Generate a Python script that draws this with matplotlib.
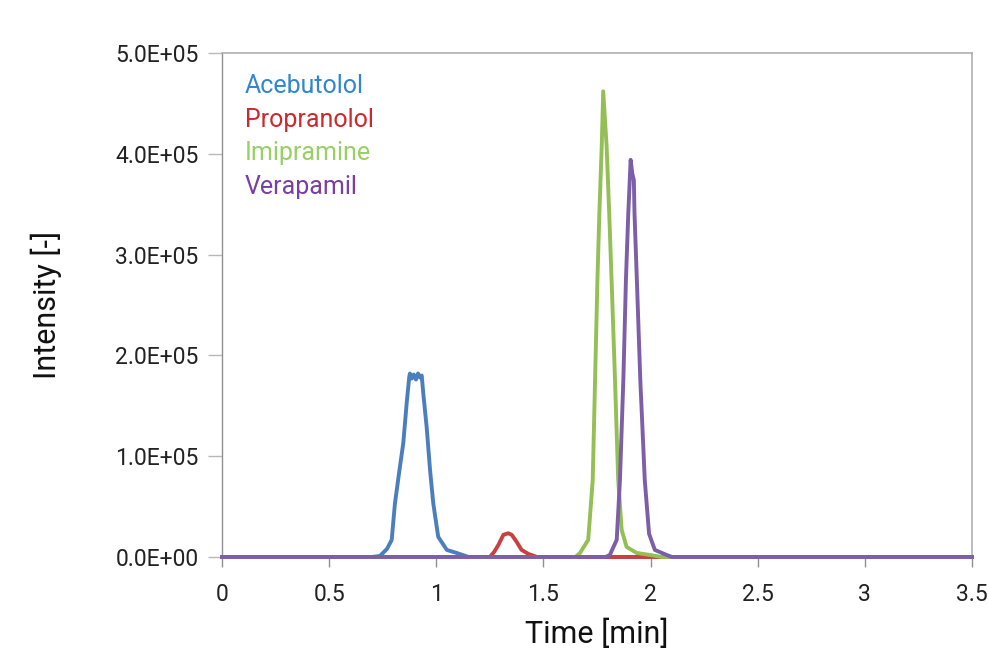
import matplotlib.pyplot as plt
from matplotlib.ticker import FuncFormatter

plt.rcParams["font.family"] = ["Roboto", "DejaVu Sans"]

# time [min] and intensity [counts]
acebutolol_t = [0.0, 0.70, 0.737, 0.77, 0.792, 0.807, 0.828, 0.846, 0.862, 0.874, 0.877,
                0.885, 0.895, 0.905, 0.915, 0.925, 0.932, 0.939, 0.955, 0.971, 0.986,
                1.009, 1.049, 1.095, 1.15, 3.5]
acebutolol_i = [0, 0, 1000, 8000, 17000, 53000, 86000, 113000, 153000, 179000, 182000,
                177000, 181000, 176000, 182000, 178000, 180000, 163000, 129000, 86000, 53000,
                20000, 7000, 4000, 0, 0]

propranolol_t = [0.0, 1.25, 1.27, 1.29, 1.313, 1.336, 1.352, 1.375, 1.398, 1.43, 1.47, 3.5]
propranolol_i = [0, 0, 5000, 12000, 22000, 23500, 22000, 15000, 7000, 3000, 0, 0]

imipramine_t = [0.0, 1.65, 1.671, 1.709, 1.730, 1.741, 1.752, 1.761, 1.772, 1.779, 1.795,
                1.807, 1.818, 1.834, 1.849, 1.865, 1.888, 1.935, 1.997, 2.05, 3.5]
imipramine_i = [0, 0, 4000, 17000, 76000, 176000, 275000, 341000, 407000, 462000, 407000,
                341000, 275000, 176000, 76000, 27000, 10000, 4000, 2000, 0, 0]

verapamil_t = [0.0, 1.79, 1.81, 1.842, 1.857, 1.873, 1.885, 1.896, 1.907, 1.915, 1.922,
               1.925, 1.936, 1.952, 1.973, 1.993, 2.02, 2.075, 2.1, 3.5]
verapamil_i = [0, 0, 2000, 17000, 76000, 176000, 275000, 341000, 394000, 380000, 374000,
               341000, 275000, 176000, 76000, 23000, 7000, 2000, 0, 0]

names = ["Acebutolol", "Propranolol", "Imipramine", "Verapamil"]
line_colors = ["#4a7ebf", "#c8403f", "#94bf55", "#7d5ea8"]
text_colors = ["#2f87d2", "#cc2a2e", "#98d066", "#7a3fa3"]

fig = plt.figure(figsize=(9.88, 6.49), dpi=100)
ax = fig.add_axes([0.2247, 0.1418, 0.7591, 0.7765])

series = [(acebutolol_t, acebutolol_i), (propranolol_t, propranolol_i),
          (imipramine_t, imipramine_i), (verapamil_t, verapamil_i)]
for (t, i), c in zip(series, line_colors):
    ax.plot(t, i, color=c, lw=2.8, solid_joinstyle="round", zorder=3, clip_on=False)

ax.set_xlim(0, 3.5)
ax.set_ylim(0, 5e5)
ax.set_xticks([0, 0.5, 1, 1.5, 2, 2.5, 3, 3.5])
ax.set_xticklabels(["0", "0.5", "1", "1.5", "2", "2.5", "3", "3.5"])
ax.set_yticks([0, 1e5, 2e5, 3e5, 4e5, 5e5])
ax.yaxis.set_major_formatter(FuncFormatter(lambda v, p: f"{v:.1E}"))

for s in ["top", "right", "bottom"]:
    ax.spines[s].set_color("#b0b0b0")
    ax.spines[s].set_linewidth(1.2)
ax.spines["left"].set_color("#909090")
ax.spines["left"].set_linewidth(1.0)
ax.tick_params(axis="y", direction="out", length=10, width=1, color="#b8b8b8",
               labelsize=16.5, pad=7, labelcolor="#222222")
ax.tick_params(axis="x", direction="out", length=7, width=1, color="#909090",
               labelsize=16.5, pad=12, labelcolor="#222222")

ax.set_xlabel("Time [min]", fontsize=22, labelpad=9, color="#111111")
ax.set_ylabel("Intensity [-]", fontsize=22, labelpad=38, color="#111111")

for k, (n, c) in enumerate(zip(names, text_colors)):
    ax.text(0.03, 0.935 - k * 0.067, n, color=c, fontsize=18,
            transform=ax.transAxes, va="center", ha="left")

fig.savefig("out.png", dpi=100)
